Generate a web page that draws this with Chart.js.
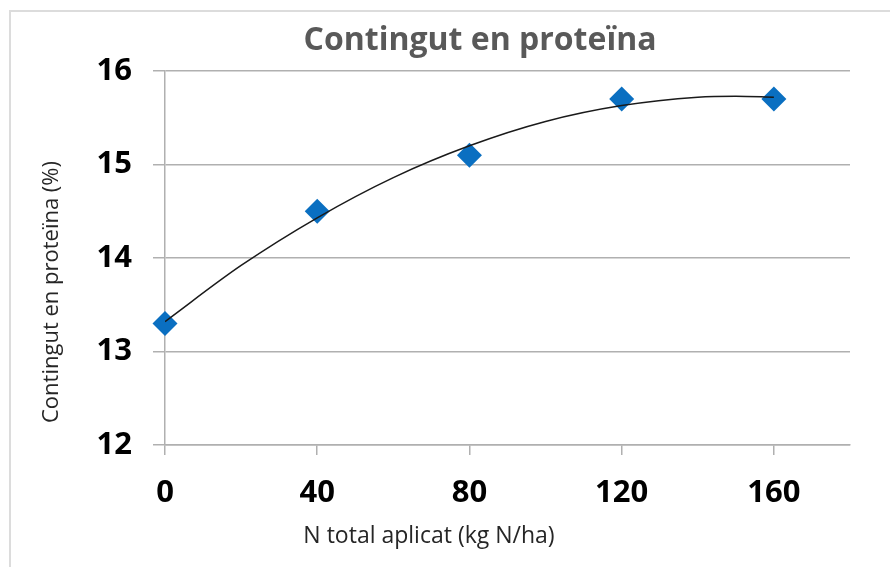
<!DOCTYPE html>
<html>
<head>
<meta charset="utf-8">
<script src="https://cdn.jsdelivr.net/npm/chart.js@4.4.0/dist/chart.umd.min.js"></script>
<style>
    body { margin: 0; background: #fff; }
    #marc { position: absolute; left: 9px; top: 10px; width: 900px; height: 600px;
            border-top: 2px solid #dcdcdc; border-left: 2px solid #dcdcdc; }
    #grafic { position: absolute; left: 0; top: 0; }
</style>
</head>
<body>
<div id="marc"></div>
<canvas id="grafic" width="890" height="567"></canvas>
<script>
// Dades: nitrogen aplicat i contingut en proteina
const dosiN = [0, 40, 80, 120, 160];
const proteina = [13.3, 14.5, 15.1, 15.7, 15.7];

// Linia de tendencia (polinomica), llegida sobre la corba
const tendenciaX = [0, 20, 40, 60, 80, 100, 120, 140, 150, 160];
const tendenciaY = [13.32, 13.92, 14.43, 14.86, 15.20, 15.46, 15.63, 15.72, 15.73, 15.72];

const ticksY = [12, 13, 14, 15, 16];
const ticksX = [0, 40, 80, 120, 160];

const titol = "Contingut en proteïna";
const titolX = "N total aplicat (kg N/ha)";
const titolY = "Contingut en proteïna (%)";

const FONT = "'Open Sans', sans-serif";

// Dibuixa els titols a la seva posicio
const titols = {
    id: 'titols',
    afterDraw(chart) {
        const ctx = chart.ctx;
        ctx.save();
        ctx.textAlign = 'center';
        ctx.textBaseline = 'alphabetic';
        ctx.fillStyle = '#595959';
        ctx.font = "bold 32px " + FONT;
        ctx.fillText(titol, 480, 50);
        ctx.fillStyle = '#262626';
        ctx.font = "23px " + FONT;
        ctx.fillText(titolX, 429, 543);
        ctx.font = "22px " + FONT;
        ctx.translate(58, 292);
        ctx.rotate(-Math.PI / 2);
        ctx.fillText(titolY, 0, 0);
        ctx.restore();
    }
};

let ctx = document.getElementById('grafic');
let grafic = new Chart(ctx, {
    type: 'scatter',
    data: {
        datasets: [{
            type: 'line',
            data: tendenciaX.map((x, i) => ({x: x, y: tendenciaY[i]})),
            borderColor: '#1a1a1a',
            borderWidth: 1.5,
            pointRadius: 0,
            cubicInterpolationMode: 'monotone',
            order: 0
        }, {
            data: dosiN.map((x, i) => ({x: x, y: proteina[i]})),
            pointStyle: 'rectRot',
            pointRadius: 12.5,
            pointHoverRadius: 12.5,
            backgroundColor: '#0a6fc1',
            borderColor: '#0a6fc1',
            borderWidth: 0,
            clip: false,
            order: 1
        }]
    },
    options: {
        responsive: false,
        animation: false,
        layout: { padding: { top: 71, right: 40, left: 0, bottom: 0 } },
        plugins: { legend: { display: false }, tooltip: { enabled: false } },
        scales: {
            x: {
                type: 'linear',
                min: 0,
                max: 180,
                afterBuildTicks: (s) => { s.ticks = ticksX.map(v => ({value: v})); },
                afterFit: (s) => { s.height = 122; },
                grid: { drawOnChartArea: false, drawTicks: true, tickLength: 10, color: '#b0b0b0', lineWidth: 1.5 },
                border: { color: '#b0b0b0', width: 1.5 },
                ticks: { color: '#000', padding: 20, font: { family: FONT, size: 31, weight: 'bold' } }
            },
            y: {
                min: 12,
                max: 16,
                afterBuildTicks: (s) => { s.ticks = ticksY.map(v => ({value: v})); },
                afterFit: (s) => { s.width = 165; },
                grid: { drawTicks: true, tickLength: 12, color: '#b0b0b0', lineWidth: 1.5 },
                border: { color: '#b0b0b0', width: 1.5 },
                ticks: { color: '#000', padding: 21, font: { family: FONT, size: 31, weight: 'bold' } }
            }
        }
    },
    plugins: [titols]
});
</script>
</body>
</html>
